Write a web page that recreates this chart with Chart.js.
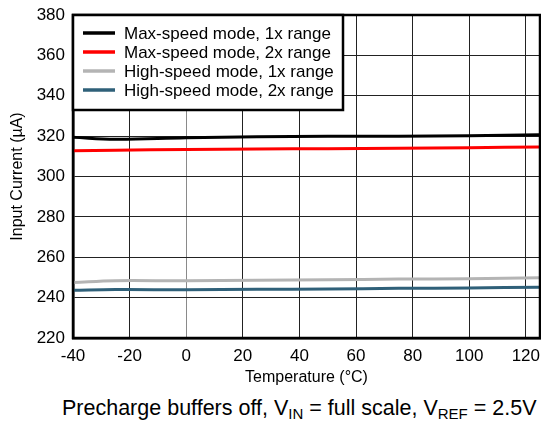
<!DOCTYPE html>
<html>
<head>
<meta charset="utf-8">
<script src="https://cdn.jsdelivr.net/npm/chart.js@4/dist/chart.umd.min.js"></script>
<style>
  html, body { margin: 0; padding: 0; background: #fff; }
  #wrap { position: relative; width: 541px; height: 422px; }
  #chart { position: absolute; left: 0; top: 0; }
  #caption {
    position: absolute; left: 62px; top: 396px; width: 479px;
    font-family: "Liberation Sans", Arial, sans-serif; font-size: 21.5px; color: #000;
    white-space: nowrap;
  }
  #caption sub { font-size: 15px; vertical-align: -4px; line-height: 0; }
</style>
</head>
<body>
<div id="wrap">
  <canvas id="chart" width="541" height="395"></canvas>
  <div id="caption">Precharge buffers off, V<sub>IN</sub> = full scale, V<sub>REF</sub> = 2.5V</div>
</div>
<script>
// temperature points (°C)
const temps = [-40, -25, 0, 25, 50, 75, 100, 125];

// input current (µA)
const maxSpeed1x  = [319.4, 318.4, 319.2, 319.7, 319.9, 320.0, 320.2, 320.7];
const maxSpeed2x  = [312.8, 313.0, 313.4, 313.6, 313.8, 314.0, 314.3, 314.6];
const highSpeed1x = [247.5, 248.4, 248.3, 248.6, 248.8, 249.2, 249.3, 249.9];
const highSpeed2x = [243.6, 244.0, 243.9, 244.1, 244.3, 244.6, 244.8, 245.2];

// axis ticks
const xTicks = [-40, -20, 0, 20, 40, 60, 80, 100, 120];
const yTicks = [220, 240, 260, 280, 300, 320, 340, 360, 380];

const seriesLabels = [
    'Max-speed mode, 1x range',
    'Max-speed mode, 2x range',
    'High-speed mode, 1x range',
    'High-speed mode, 2x range'
];
const seriesColors = ['#000000', '#ff0000', '#b4b4b4', '#2f6079'];
const seriesData = [maxSpeed1x, maxSpeed2x, highSpeed1x, highSpeed2x];

const FONT = '"Liberation Sans", Arial, sans-serif';

function toPoints(arr) {
    return temps.map((t, i) => ({ x: t, y: arr[i] }));
}

// frame + boxed legend in the top-left corner of the plot
const framePlugin = {
    id: 'frameLegend',
    afterDraw(chart) {
        const { ctx, chartArea: a } = chart;
        ctx.save();
        ctx.strokeStyle = '#000';
        ctx.lineWidth = 2.5;
        ctx.strokeRect(a.left, a.top, a.right - a.left, a.bottom - a.top);

        const bx = a.left, by = a.top, bw = 270, bh = 95;
        ctx.fillStyle = '#fff';
        ctx.fillRect(bx, by, bw, bh);
        ctx.lineWidth = 2.5;
        ctx.strokeRect(bx, by, bw, bh);

        ctx.font = '17px ' + FONT;
        ctx.textBaseline = 'middle';
        ctx.textAlign = 'left';
        chart.data.datasets.forEach((ds, i) => {
            const y = by + 18 + i * 19;
            ctx.strokeStyle = ds.borderColor;
            ctx.lineWidth = 3.5;
            ctx.beginPath();
            ctx.moveTo(bx + 10, y);
            ctx.lineTo(bx + 42, y);
            ctx.stroke();
            ctx.fillStyle = '#000';
            ctx.fillText(ds.label, bx + 51, y + 1);
        });
        ctx.restore();
    }
};

new Chart(document.getElementById('chart'), {
    type: 'line',
    data: {
        datasets: seriesData.map((arr, i) => ({
            label: seriesLabels[i],
            data: toPoints(arr),
            borderColor: seriesColors[i],
            backgroundColor: seriesColors[i],
            borderWidth: 3,
            pointRadius: 0,
            tension: 0.4,
            fill: false
        }))
    },
    options: {
        responsive: false,
        animation: false,
        layout: { padding: { top: 15, right: 1, left: 0, bottom: 0 } },
        plugins: {
            legend: { display: false },
            tooltip: { enabled: false }
        },
        scales: {
            x: {
                type: 'linear',
                min: -40,
                max: 125,
                afterBuildTicks(scale) {
                    scale.ticks = xTicks.map(v => ({ value: v }));
                },
                afterFit(scale) {
                    scale.height = 57;
                    scale.paddingLeft = 0;
                    scale.paddingRight = 0;
                },
                ticks: {
                    color: '#000',
                    padding: 8,
                    font: { family: FONT, size: 17 }
                },
                grid: {
                    color: ctx => (ctx.tick && ctx.tick.value === 0) ? '#8a8a8a' : '#222',
                    lineWidth: 1,
                    drawTicks: false
                },
                border: { color: '#000', width: 2.5 },
                title: {
                    display: true,
                    text: 'Temperature (°C)',
                    color: '#000',
                    font: { family: FONT, size: 16 },
                    padding: { top: 0, bottom: 8 }
                }
            },
            y: {
                min: 220,
                max: 380,
                afterBuildTicks(scale) {
                    scale.ticks = yTicks.map(v => ({ value: v }));
                },
                afterFit(scale) {
                    scale.width = 73;
                    scale.paddingTop = 0;
                    scale.paddingBottom = 0;
                },
                ticks: {
                    color: '#000',
                    padding: 8,
                    font: { family: FONT, size: 17 }
                },
                grid: { color: '#222', lineWidth: 1, drawTicks: false },
                border: { color: '#000', width: 2.5 },
                title: {
                    display: true,
                    text: 'Input Current (µA)',
                    color: '#000',
                    font: { family: FONT, size: 16 },
                    padding: { top: 8, bottom: 0 }
                }
            }
        }
    },
    plugins: [framePlugin]
});
</script>
</body>
</html>
